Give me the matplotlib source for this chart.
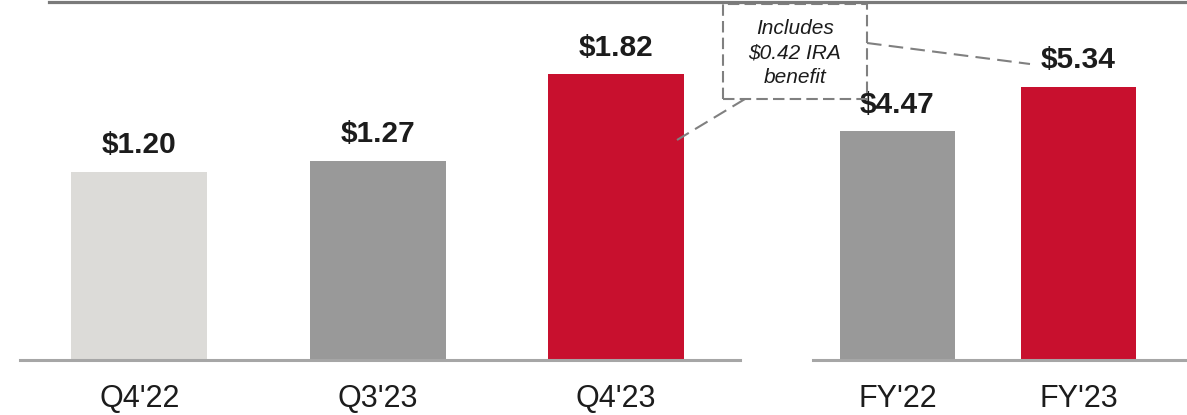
import matplotlib
matplotlib.use("Agg")
import matplotlib.pyplot as plt
from matplotlib.lines import Line2D
from matplotlib.patches import Rectangle

# data
q_labels = ["Q4'22", "Q3'23", "Q4'23"]
q_values = [1.20, 1.27, 1.82]
fy_labels = ["FY'22", "FY'23"]
fy_values = [4.47, 5.34]

q_colors = ['#dcdbd8', '#999999', '#c8102e']
fy_colors = ['#999999', '#c8102e']

W, H = 1187, 415


def fx(px):
    return px / W


def fy(py):
    return 1 - py / H


def main():
    plt.rcParams['font.family'] = ['Liberation Sans', 'DejaVu Sans']
    fig = plt.figure(figsize=(W / 100, H / 100), dpi=100)

    # left panel (quarters)
    ax1 = fig.add_axes([fx(20), fy(360), fx(740) - fx(20), fy(0) - fy(360)])
    ax1.bar(range(3), q_values, width=0.571, color=q_colors)
    ax1.set_xlim(-0.5, 2.52)
    ax1.set_ylim(0, 2.293)
    for i, v in enumerate(q_values):
        ax1.annotate("${:.2f}".format(v), (i, v), xytext=(0, 9), textcoords='offset points',
                     ha='center', va='bottom', fontsize=21.5, fontweight='bold', color='#1c1c1c')

    # right panel (full year)
    ax2 = fig.add_axes([fx(813), fy(360), 1 - fx(813), fy(0) - fy(360)])
    ax2.bar(range(2), fy_values, width=0.635, color=fy_colors)
    ax2.set_xlim(-0.467, 1.6)
    ax2.set_ylim(0, 7.04)
    for i, v in enumerate(fy_values):
        ax2.annotate("${:.2f}".format(v), (i, v), xytext=(0, 9), textcoords='offset points',
                     ha='center', va='bottom', fontsize=21.5, fontweight='bold', color='#1c1c1c')

    for ax, labels in [(ax1, q_labels), (ax2, fy_labels)]:
        ax.set_xticks(range(len(labels)))
        ax.set_xticklabels(labels, fontsize=22, color='#1c1c1c')
        ax.tick_params(axis='x', length=0, pad=17)
        ax.set_yticks([])
        for s in ['top', 'left', 'right']:
            ax.spines[s].set_visible(False)
        ax.spines['bottom'].set_color('#a6a6a6')
        ax.spines['bottom'].set_linewidth(2.2)
        ax.patch.set_alpha(0)

    # top rule
    fig.add_artist(Line2D([fx(49), 1], [fy(2), fy(2)], color='#7a7a7a', linewidth=2.3))

    # callout box
    box = Rectangle((fx(723), fy(99)), fx(867) - fx(723), fy(4) - fy(99), transform=fig.transFigure,
                    fill=False, edgecolor='#808080', linestyle=(0, (5.5, 2.5)), linewidth=1.5)
    fig.add_artist(box)
    fig.text(fx(795), fy(53), "Includes\n$0.42 IRA\nbenefit", ha='center', va='center',
             fontsize=15, style='italic', color='#1c1c1c', linespacing=1.38)
    fig.add_artist(Line2D([fx(745), fx(677)], [fy(99), fy(140)], color='#808080',
                          linestyle=(0, (7, 3.5)), linewidth=1.5))
    fig.add_artist(Line2D([fx(867), fx(1030)], [fy(43), fy(64)], color='#808080',
                          linestyle=(0, (7, 3.5)), linewidth=1.5))

    plt.savefig("out.png", dpi=100)


if __name__ == "__main__":
    main()
